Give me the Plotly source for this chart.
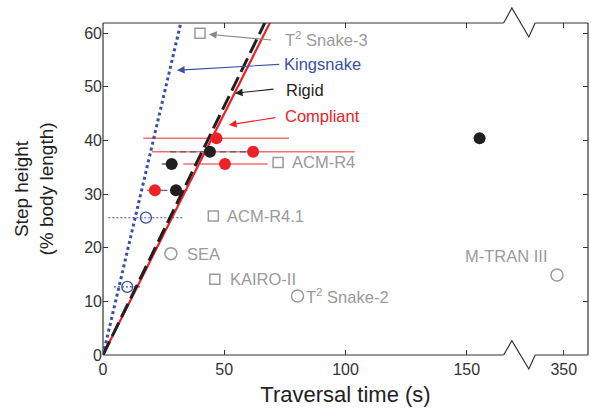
import plotly.graph_objects as go

# ---------------- data ----------------
BREAK_OFFSET = 160  # values beyond the axis break are shifted left by this amount

def disp(v):
    return v - BREAK_OFFSET if v > 300 else v

# fitted slopes (% body length per second)
kingsnake_slope = 1.93
rigid_slope = 0.928
compliant_slope = 0.90

# compliant robot (red filled)
comp_x = [46.8, 61.9, 50.3, 21.4]
comp_y = [40.4, 37.9, 35.6, 30.7]
comp_lo = [30.2, 41.7, 17.2, 3.3]
comp_hi = [29.9, 41.9, 17.6, 3.0]

# rigid robot (black filled)
rig_x = [44.1, 28.3, 30.1, 155.3]
rig_y = [37.9, 35.6, 30.7, 40.4]
rig_lo = [16.5, 4.1, 6.0, 0]
rig_hi = [16.5, 4.0, 6.5, 0]

# kingsnake (blue open)
king_x = [17.7, 10.0]
king_y = [25.6, 12.7]
king_lo = [15.5, 5.5]
king_hi = [15.1, 5.5]

# other robots
circ_names = ["SEA", "T<sup>2</sup> Snake-2", "M-TRAN III"]
circ_x = [28.0, 80.2, 347.2]
circ_y = [18.9, 11.0, 14.9]
sq_names = ["T<sup>2</sup> Snake-3", "ACM-R4", "ACM-R4.1", "KAIRO-II"]
sq_x = [40.0, 72.2, 45.5, 46.1]
sq_y = [60.0, 35.9, 25.9, 14.1]

x_ticks = [0, 50, 100, 150, 350]
y_ticks = [0, 10, 20, 30, 40, 50, 60]

# ---------------- style ----------------
RED = "#ec2227"
BLACK = "#231f20"
BLUE = "#3a4fa5"
GRAY = "#9a9a9a"
FONT = "Liberation Sans, Arial, sans-serif"
LABEL_SIZE = 16.5

fig = go.Figure()

def err_segments(xs, ys, lo, hi):
    sx, sy = [], []
    for x, y, l, h in zip(xs, ys, lo, hi):
        if l == 0 and h == 0:
            continue
        sx += [disp(x) - l, disp(x) + h, None]
        sy += [y, y, None]
    return sx, sy

# error bars
ex, ey = err_segments(king_x, king_y, king_lo, king_hi)
fig.add_trace(go.Scatter(x=ex, y=ey, mode="lines", line=dict(color=BLUE, width=1.1, dash="2px,2px"),
                         hoverinfo="skip", showlegend=False))
ex, ey = err_segments(comp_x, comp_y, comp_lo, comp_hi)
fig.add_trace(go.Scatter(x=ex, y=ey, mode="lines", line=dict(color="rgba(236,34,39,0.65)", width=1.5),
                         hoverinfo="skip", showlegend=False))
ex, ey = err_segments(rig_x, rig_y, rig_lo, rig_hi)
fig.add_trace(go.Scatter(x=ex, y=ey, mode="lines", line=dict(color="#666666", width=1.4, dash="6px,4px"),
                         hoverinfo="skip", showlegend=False))

# fit lines
for slope, col, dash, w in [(kingsnake_slope, BLUE, "dot", 3),
                            (compliant_slope, RED, "solid", 2.2),
                            (rigid_slope, BLACK, "15px,6px", 3)]:
    xe = 70
    fig.add_trace(go.Scatter(x=[0, xe], y=[0, slope * xe], mode="lines",
                             line=dict(color=col, width=w, dash=dash),
                             hoverinfo="skip", showlegend=False))

# markers
fig.add_trace(go.Scatter(x=[disp(v) for v in comp_x], y=comp_y, mode="markers",
                         marker=dict(color=RED, size=12), showlegend=False))
fig.add_trace(go.Scatter(x=[disp(v) for v in rig_x], y=rig_y, mode="markers",
                         marker=dict(color=BLACK, size=12), showlegend=False))
fig.add_trace(go.Scatter(x=[disp(v) for v in king_x], y=king_y, mode="markers",
                         marker=dict(color="rgba(0,0,0,0)", size=11, line=dict(color=BLUE, width=1.3)),
                         showlegend=False))
fig.add_trace(go.Scatter(x=[disp(v) for v in circ_x], y=circ_y, mode="markers",
                         marker=dict(color="rgba(0,0,0,0)", size=12, line=dict(color=GRAY, width=1.5)),
                         showlegend=False))
fig.add_trace(go.Scatter(x=[disp(v) for v in sq_x], y=sq_y, mode="markers",
                         marker=dict(symbol="square", color="rgba(0,0,0,0)", size=10,
                                     line=dict(color=GRAY, width=1.5)),
                         showlegend=False))

ann = []
def label(text, x, y, color, xanchor="left"):
    ann.append(dict(text=text, x=x, y=y, xref="x", yref="y", showarrow=False,
                    xanchor=xanchor, yanchor="middle",
                    font=dict(color=color, size=LABEL_SIZE, family=FONT)))

# point labels
label(circ_names[0], 33.8, 18.9, GRAY)
label(circ_names[1], 82.8, 11.0, GRAY)
label(circ_names[2], 166.3, 18.4, GRAY, xanchor="center")
label(sq_names[1], 77.0, 36.0, GRAY)
label(sq_names[2], 50.3, 25.9, GRAY)
label(sq_names[3], 51.5, 14.2, GRAY)

# arrow labels
label(sq_names[0], 74.2, 59.0, GRAY)
label("Kingsnake", 73.7, 54.3, BLUE)
label("Rigid", 74.6, 49.5, BLACK)
label("Compliant", 74.2, 44.6, RED)

def arrow(hx, hy, tx, ty, color):
    ann.append(dict(x=hx, y=hy, ax=tx, ay=ty, xref="x", yref="y", axref="x", ayref="y",
                    text="", showarrow=True, arrowhead=2, arrowsize=1.4, arrowwidth=1.1,
                    arrowcolor=color))

arrow(43.7, 59.8, 70.0, 58.7, "#8a8a8a")
arrow(30.5, 53.1, 73.3, 54.2, BLUE)
arrow(54.4, 48.8, 70.9, 49.6, BLACK)
arrow(51.9, 42.9, 71.7, 44.3, RED)

# frame with axis break (paper coords)
XMAX = 200.0
b0, b1, b2, b3 = 165.2 / XMAX, 168.6 / XMAX, 175.6 / XMAX, 178.2 / XMAX
lc = dict(color="#333333", width=1.2)
shapes = [
    dict(type="line", xref="paper", yref="paper", x0=0, x1=0, y0=0, y1=1, line=lc),
    dict(type="line", xref="paper", yref="paper", x0=1, x1=1, y0=0, y1=1, line=lc),
    dict(type="line", xref="paper", yref="paper", x0=0, x1=b0, y0=0, y1=0, line=lc),
    dict(type="line", xref="paper", yref="paper", x0=b3, x1=1, y0=0, y1=0, line=lc),
    dict(type="line", xref="paper", yref="paper", x0=0, x1=b0, y0=1, y1=1, line=lc),
    dict(type="line", xref="paper", yref="paper", x0=b3, x1=1, y0=1, y1=1, line=lc),
    dict(type="path", xref="paper", yref="paper",
         path=f"M {b0} 0 L {b1} 0.043 L {b2} -0.042 L {b3} 0", line=lc),
    dict(type="path", xref="paper", yref="paper",
         path=f"M {b0} 1 L {b1} 1.045 L {b2} 0.958 L {b3} 1", line=lc),
]

fig.update_layout(
    width=591, height=410,
    margin=dict(l=103, r=3, t=23, b=55),
    paper_bgcolor="white", plot_bgcolor="white",
    font=dict(family=FONT, color="#333333", size=16),
    annotations=ann, shapes=shapes,
    xaxis=dict(range=[0, XMAX], tickvals=[disp(v) for v in x_ticks], ticktext=[str(v) for v in x_ticks],
               ticks="inside", ticklen=5, tickcolor="#333333", mirror="ticks", showline=False,
               showgrid=False, zeroline=False, automargin=False, ticklabelstandoff=3,
               tickfont=dict(size=16, color="#333333"),
               title=dict(text="Traversal time (s)", font=dict(size=22, color="#222222"), standoff=9)),
    yaxis=dict(range=[0, 61.9], tickvals=y_ticks, ticks="inside", ticklen=5, tickcolor="#333333",
               mirror="ticks", showline=False, showgrid=False, zeroline=False, automargin=False,
               tickfont=dict(size=16, color="#333333"),
               title=dict(text="Step height<br>(% body length)", font=dict(size=19, color="#222222"),
                          standoff=25)),
)

fig.write_html("out.html", config={"displayModeBar": False},
               post_script="document.body.style.margin='0';document.body.style.overflow='hidden';")
